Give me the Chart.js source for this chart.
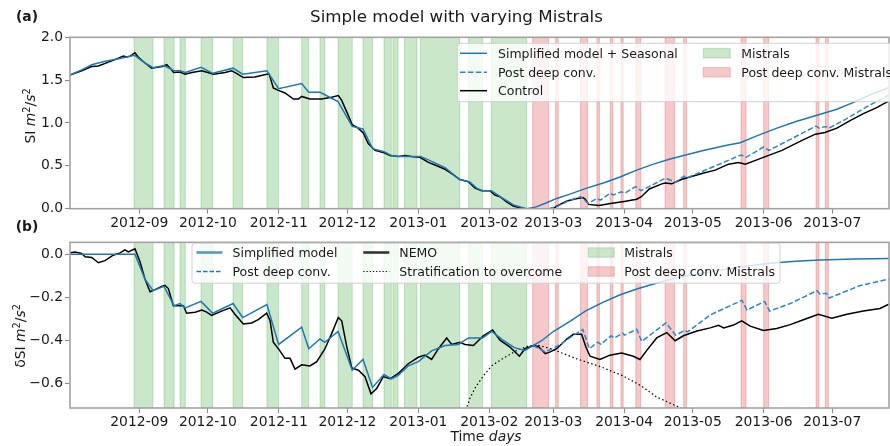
<!DOCTYPE html>
<html>
<head>
<meta charset="utf-8">
<script src="https://cdn.jsdelivr.net/npm/chart.js@4.4.1/dist/chart.umd.min.js"></script>
<style>
  body { margin: 0; background: #fff; }
  #wrap { position: relative; width: 890px; height: 446px; overflow: hidden; font-family: 'DejaVu Sans', sans-serif; color: #1a1a1a; }
  canvas { position: absolute; left: 0; }
  .txt { position: absolute; white-space: nowrap; line-height: 1; transform: translate(-50%, -50%); }
  .rot { transform: translate(-50%, -50%) rotate(-90deg); }
  sup { font-size: 70%; line-height: 0; vertical-align: 0.55em; }
</style>
</head>
<body>
<div id="wrap">
  <canvas id="chartA" width="890" height="232" style="top:0"></canvas>
  <canvas id="chartB" width="890" height="214" style="top:232px"></canvas>
  <div class="txt" style="left:456.5px; top:16px; font-size:16.7px">Simple model with varying Mistrals</div>
  <div class="txt" style="left:27px; top:17px; font-size:13.9px; font-weight:bold">(a)</div>
  <div class="txt" style="left:27px; top:227px; font-size:13.9px; font-weight:bold">(b)</div>
  <div class="txt rot" style="left:31px; top:116px; font-size:13.9px">SI <i>m</i><sup>2</sup>/<i>s</i><sup>2</sup></div>
  <div class="txt rot" style="left:21px; top:336px; font-size:13.9px">δSI <i>m</i><sup>2</sup>/<i>s</i><sup>2</sup></div>
  <div class="txt" style="left:486px; top:437px; font-size:13.9px">Time <i>days</i></div>
</div>
<script>
// days counted from 2012-08-01
const monthTicks = [31, 61, 92, 122, 153, 184, 212, 243, 273, 304, 334];
const monthLabels = ['2012-09', '2012-10', '2012-11', '2012-12', '2013-01', '2013-02',
                     '2013-03', '2013-04', '2013-05', '2013-06', '2013-07'];

// Mistral events
const mistralStart = [28.7, 41.8, 48.8, 58.0, 72.0, 86.8, 102.0, 110.0, 117.9, 128.8, 138.0, 141.9, 146.9, 153.9, 175.0, 184.9];
const mistralEnd   = [37.0, 46.2, 51.1, 63.1, 76.2, 91.9, 105.1, 112.1, 124.1, 133.0, 141.2, 144.1, 152.4, 171.1, 181.1, 200.4];
const postStart = [203.0, 213.0, 223.9, 231.1, 236.9, 241.6, 248.1, 260.9, 269.0, 294.1, 304.0, 326.9, 331.0];
const postEnd   = [210.0, 214.2, 227.0, 232.2, 238.1, 242.6, 250.3, 265.1, 270.3, 296.3, 306.2, 328.2, 332.3];

// panel (a): SI
const aModelDays = [0.7, 5.8, 10.2, 16, 22, 29, 33.5, 37.0, 41.8, 46.2, 48.8, 51.1, 58.0, 63.1, 72.0, 76.2, 86.8, 91.9, 102.0, 105.1,
  110.0, 112.1, 117.9, 124.1, 128.8, 133.0, 138.0, 141.2, 144.1, 153.9, 157.4, 164.7, 171.1, 175.6, 178.5, 181.1, 184.9, 190, 195, 200.4,
  204, 209.1, 213.5, 219.3, 226.6, 233.9, 241.2, 248.5, 255.8, 263.1, 270.3, 277.6, 287.9, 293.7, 301, 309.8, 318.5, 327.3, 336, 343.3,
  350.6, 359.4];
const aModelVals = [1.56, 1.62, 1.68, 1.72, 1.75, 1.79, 1.70, 1.645, 1.67, 1.61, 1.61, 1.59, 1.65, 1.58, 1.64, 1.57, 1.61, 1.40, 1.46, 1.36,
  1.36, 1.33, 1.25, 0.96, 0.93, 0.70, 0.665, 0.62, 0.61, 0.61, 0.57, 0.48, 0.34, 0.31, 0.24, 0.21, 0.21, 0.12, 0.04, 0.0,
  0.016, 0.07, 0.12, 0.17, 0.24, 0.30, 0.37, 0.45, 0.52, 0.58, 0.63, 0.68, 0.74, 0.77, 0.85, 0.94, 1.02, 1.09, 1.16, 1.24,
  1.33, 1.42];

const aPostDays = [210, 214, 219.3, 224, 227.3, 231.1, 232.5, 236.9, 238.3, 241.8, 243.2, 248, 250.4, 261, 265.4, 269.2, 270.5, 282,
  294.1, 296.3, 304, 306.3, 326.9, 328.3, 331, 332.6, 340.3, 349.1, 359];
const aPostVals = [0.0, 0.03, 0.10, 0.14, 0.063, 0.12, 0.10, 0.18, 0.16, 0.198, 0.18, 0.257, 0.21, 0.355, 0.31, 0.38, 0.36, 0.49,
  0.627, 0.60, 0.72, 0.68, 0.965, 0.94, 0.96, 0.94, 1.05, 1.19, 1.33];

const aControlDays = [0.7, 5.8, 10.2, 13.1, 17.5, 20.4, 24, 25.5, 27, 29.1, 30.5, 33.5, 36.4, 41, 43.0, 44.5, 46, 48.8, 51, 54,
  58.3, 61, 63.4, 68.5, 71.4, 73.5, 76.5, 81.5, 86.7, 87.8, 89.6, 91.8, 94.7, 98.4, 100.6, 102, 105.6, 110.7, 115.1, 118,
  119.4, 121.7, 124.1, 126.7, 129, 131.1, 134.1, 138.4, 140.6, 144.3, 147.2, 150.1, 153.7, 157.4, 160.3, 164.7, 167.6, 171.2, 174.9, 177.8,
  180.7, 184.3, 186.5, 188.7, 191.6, 194.5, 198.9, 212, 213.5, 218, 222, 225, 226, 227.5, 232, 237, 243, 248.5, 250.5, 254,
  259.5, 261, 263.8, 268, 277, 282.8, 288.6, 293, 296, 303, 312, 321, 326.6, 330.8, 336, 342, 347.6, 353.4, 359];
const aControlVals = [1.56, 1.61, 1.66, 1.665, 1.71, 1.74, 1.78, 1.77, 1.78, 1.82, 1.77, 1.70, 1.64, 1.66, 1.68, 1.64, 1.59, 1.595, 1.57, 1.59,
  1.61, 1.59, 1.57, 1.59, 1.61, 1.58, 1.53, 1.536, 1.57, 1.57, 1.41, 1.38, 1.35, 1.28, 1.28, 1.31, 1.28, 1.28, 1.30, 1.32,
  1.27, 1.13, 0.98, 0.94, 0.88, 0.76, 0.68, 0.65, 0.62, 0.61, 0.62, 0.61, 0.60, 0.54, 0.51, 0.46, 0.41, 0.34, 0.315, 0.24,
  0.21, 0.21, 0.16, 0.14, 0.08, 0.03, 0.0, 0.0, 0.03, 0.09, 0.115, 0.13, 0.11, 0.05, 0.037, 0.06, 0.085, 0.11, 0.14, 0.23,
  0.29, 0.30, 0.29, 0.34, 0.41, 0.45, 0.52, 0.54, 0.52, 0.59, 0.68, 0.80, 0.87, 0.89, 0.94, 1.03, 1.11, 1.18, 1.26];

// panel (b): delta SI
const bModelDays = [0.7, 29.1, 33.5, 37, 41.8, 46.2, 48.8, 51.1, 58, 63.1, 72, 76.2, 86.8, 91.9, 102, 105.1, 110, 112.1, 117.9, 124.1,
  128.8, 133, 138, 141.2, 144.1, 148.6, 153, 158.8, 164.7, 170.5, 174.9, 181.1, 185.1, 190, 195, 199.6, 206.9, 212, 219.3, 226,
  233.9, 241, 248.5, 257, 266, 276, 286.4, 296, 306.8, 318, 328.6, 344, 359.2];
const bModelVals = [0, 0, -0.117, -0.17, -0.15, -0.24, -0.23, -0.25, -0.22, -0.275, -0.23, -0.295, -0.235, -0.42, -0.34, -0.44, -0.395, -0.41, -0.36, -0.54,
  -0.49, -0.62, -0.56, -0.58, -0.565, -0.52, -0.50, -0.45, -0.425, -0.42, -0.39, -0.39, -0.36, -0.40, -0.435, -0.448, -0.403, -0.36, -0.313, -0.265,
  -0.223, -0.19, -0.162, -0.135, -0.11, -0.09, -0.072, -0.056, -0.042, -0.033, -0.027, -0.023, -0.02];

const bPostDays = [203.3, 208.5, 213.5, 224.9, 227.8, 231.5, 232.8, 237.3, 238.7, 242.4, 243.1, 248.5, 250.7, 261.3, 265.5, 269.5, 270.8,
  280.6, 294.5, 296.7, 304.4, 306.6, 315.6, 327.3, 328.6, 331.4, 332.7, 346, 359.6];
const bPostVals = [-0.425, -0.455, -0.43, -0.35, -0.44, -0.41, -0.42, -0.38, -0.39, -0.368, -0.377, -0.35, -0.406, -0.32, -0.377, -0.355, -0.362,
  -0.283, -0.215, -0.26, -0.22, -0.265, -0.23, -0.17, -0.185, -0.182, -0.204, -0.147, -0.114];

const bNemoDays = [0.7, 2.9, 5.8, 7.3, 10.2, 13.1, 16.0, 19.6, 22.6, 24.7, 26.2, 29.1, 31.3, 33.5, 35.7, 37.9, 40.8, 42.2, 43.7, 45.9,
  48.1, 50.3, 51.7, 55.4, 58.3, 60.5, 62.6, 67.0, 70.7, 72.8, 76.5, 80.1, 83.0, 86.7, 88.2, 89.6, 91.8, 94.7, 96.9, 99.1,
  102.0, 105.6, 108.6, 112.2, 115.1, 118.0, 119.5, 121.7, 123.9, 126.8, 129.7, 132.3, 134.8, 137.7, 140.6, 144.3, 148.6, 153.0, 155.9, 158.8,
  161.8, 165.4, 167.6, 171.2, 173.4, 177.1, 181.4, 185.5, 188.7, 193.1, 197.2, 199.6, 203.3, 205.5, 208.5, 210.7, 213.5, 217.9, 220.8, 224.4,
  226.3, 228.1, 232.4, 236.8, 241.9, 247, 249.9, 252.9, 257.2, 261.6, 265.3, 268.9, 274.8, 280.6, 284.3, 286.5, 290.8, 294.4, 298.1, 303.9,
  309.7, 315.6, 321.4, 327.9, 333.8, 340.4, 347.6, 354.9, 359.2];
const bNemoVals = [0.006, 0.01, 0.003, -0.012, -0.015, -0.04, -0.03, -0.005, 0.006, 0.02, 0.01, 0.025, -0.035, -0.117, -0.175, -0.165, -0.15, -0.145, -0.16, -0.24,
  -0.24, -0.24, -0.275, -0.27, -0.26, -0.27, -0.285, -0.265, -0.25, -0.28, -0.325, -0.32, -0.305, -0.275, -0.31, -0.41, -0.44, -0.485, -0.485, -0.535,
  -0.515, -0.52, -0.50, -0.44, -0.37, -0.295, -0.31, -0.43, -0.53, -0.54, -0.57, -0.65, -0.625, -0.57, -0.58, -0.555, -0.51, -0.48, -0.47, -0.49,
  -0.44, -0.39, -0.42, -0.41, -0.42, -0.425, -0.38, -0.353, -0.40, -0.433, -0.475, -0.44, -0.425, -0.43, -0.463, -0.455, -0.44, -0.395, -0.373, -0.373,
  -0.433, -0.475, -0.49, -0.47, -0.46, -0.475, -0.49, -0.448, -0.39, -0.365, -0.403, -0.38, -0.358, -0.343, -0.331, -0.343, -0.33, -0.31, -0.335, -0.355,
  -0.346, -0.328, -0.305, -0.28, -0.298, -0.28, -0.265, -0.253, -0.23];

const bStratDays = [172, 175.6, 178, 181.4, 185, 190.2, 196, 201, 205, 211, 222, 233, 242.6, 250, 257.2, 267.4, 272];
const bStratVals = [-0.78, -0.67, -0.62, -0.567, -0.52, -0.484, -0.448, -0.428, -0.423, -0.44, -0.486, -0.525, -0.567, -0.61, -0.665, -0.714, -0.74];

const BLUE = '#1f77b4';
const DASH_BLUE = '#2e86c8';
const GREEN = 'rgba(44,160,44,0.25)';
const RED = 'rgba(214,39,40,0.25)';
const FONT = "'DejaVu Sans', sans-serif";
const TXT = '#1a1a1a';

function pts (days, vals) {
    return days.map((d, i) => ({x: d, y: vals[i]}));
}

function line (label, days, vals, color, extra) {
    return Object.assign({
        label: label,
        data: pts(days, vals),
        borderColor: color,
        borderWidth: 1.5,
        pointRadius: 0,
        tension: 0,
        fill: false
    }, extra || {});
}

const spanPlugin = {
    id: 'spans',
    beforeDatasetsDraw (chart) {
        const ctx = chart.ctx, a = chart.chartArea, x = chart.scales.x;
        ctx.save();
        ctx.beginPath();
        ctx.rect(a.left, a.top, a.right - a.left, a.bottom - a.top);
        ctx.clip();
        const draw = (starts, ends, col) => {
            starts.forEach((s, i) => {
                const x0 = x.getPixelForValue(s), x1 = x.getPixelForValue(ends[i]);
                ctx.fillStyle = col;
                ctx.fillRect(x0, a.top, x1 - x0, a.bottom - a.top);
                ctx.strokeStyle = col;
                ctx.lineWidth = 1;
                ctx.strokeRect(x0, a.top, x1 - x0, a.bottom - a.top);
            });
        };
        draw(mistralStart, mistralEnd, GREEN);
        draw(postStart, postEnd, RED);
        ctx.restore();
    }
};

const framePlugin = {
    id: 'frame',
    afterDatasetsDraw (chart) {
        const ctx = chart.ctx, a = chart.chartArea;
        ctx.save();
        ctx.strokeStyle = '#a3a3a3';
        ctx.lineWidth = 1.6;
        ctx.strokeRect(a.left, a.top, a.right - a.left, a.bottom - a.top);
        ctx.restore();
    }
};

const legendPlugin = {
    id: 'boxLegend',
    afterDraw (chart, args, opts) {
        const ctx = chart.ctx, b = opts.box;
        ctx.save();
        ctx.beginPath();
        ctx.roundRect(b.x, b.y, b.w, b.h, 3);
        ctx.fillStyle = 'rgba(255,255,255,0.8)';
        ctx.fill();
        ctx.strokeStyle = 'rgba(204,204,204,0.9)';
        ctx.lineWidth = 1;
        ctx.stroke();
        ctx.font = '12.5px ' + FONT;
        ctx.textBaseline = 'middle';
        opts.items.forEach(it => {
            const x0 = opts.cols[it.col], y = opts.rows[it.row];
            if (it.patch) {
                ctx.fillStyle = it.patch;
                ctx.fillRect(x0, y - 4.7, opts.hw, 9.4);
                ctx.strokeStyle = it.patch;
                ctx.lineWidth = 1;
                ctx.strokeRect(x0, y - 4.7, opts.hw, 9.4);
            } else {
                ctx.globalAlpha = it.alpha || 1;
                ctx.strokeStyle = it.color;
                ctx.lineWidth = it.width;
                ctx.setLineDash(it.dash || []);
                ctx.beginPath();
                ctx.moveTo(x0, y);
                ctx.lineTo(x0 + opts.hw, y);
                ctx.stroke();
                ctx.setLineDash([]);
                ctx.globalAlpha = 1;
            }
            ctx.fillStyle = TXT;
            ctx.fillText(it.label, x0 + opts.hw + opts.gap, y + 1);
        });
        ctx.restore();
    }
};

const fmt = v => (Math.abs(v) < 1e-9 ? 0 : v).toFixed(1).replace('-', '\u2212');

function xAxis (h) {
    return {
        type: 'linear', min: 0.7, max: 358.8,
        afterBuildTicks: s => { s.ticks = monthTicks.map(v => ({value: v})); },
        afterFit: s => { s.height = h; },
        ticks: { autoSkip: false, maxRotation: 0, padding: 1, color: TXT,
                 font: {family: FONT, size: 13.9},
                 callback: (v, i) => monthLabels[i] },
        grid: { drawOnChartArea: false, tickLength: 5, tickColor: '#8a8a8a', tickWidth: 1.1 },
        border: { display: false }
    };
}

function yAxis (min, max, ticks) {
    return {
        type: 'linear', min: min, max: max,
        afterBuildTicks: s => { s.ticks = ticks.map(v => ({value: v})); },
        afterFit: s => { s.width = 70; },
        ticks: { padding: 2, color: TXT, font: {family: FONT, size: 13.9}, callback: v => fmt(v) },
        grid: { drawOnChartArea: false, tickLength: 5, tickColor: '#8a8a8a', tickWidth: 1.1 },
        border: { display: false }
    };
}

const common = {
    responsive: false,
    animation: false,
    events: [],
    plugins: { legend: { display: false }, tooltip: { enabled: false } }
};

new Chart(document.getElementById('chartA'), {
    type: 'line',
    data: {
        datasets: [
            line('Simplified model + Seasonal', aModelDays, aModelVals, BLUE),
            line('Post deep conv.', aPostDays, aPostVals, DASH_BLUE, {borderDash: [5.5, 2.4]}),
            line('Control', aControlDays, aControlVals, '#000000')
        ]
    },
    options: Object.assign({}, common, {
        layout: { padding: {top: 37.3, right: 1, bottom: 0, left: 0} },
        scales: { x: xAxis(23.3), y: yAxis(0, 2, [0, 0.5, 1, 1.5, 2]) },
        plugins: Object.assign({}, common.plugins, {
            boxLegend: {
                box: {x: 457.3, y: 43.3, w: 440, h: 58.4},
                cols: [460, 703.3], rows: [53.3, 72.3, 90.7], hw: 27, gap: 11,
                items: [
                    {col: 0, row: 0, label: 'Simplified model + Seasonal', color: BLUE, width: 1.5},
                    {col: 0, row: 1, label: 'Post deep conv.', color: DASH_BLUE, width: 1.5, dash: [5.5, 2.4]},
                    {col: 0, row: 2, label: 'Control', color: '#000000', width: 1.5},
                    {col: 1, row: 0, label: 'Mistrals', patch: GREEN},
                    {col: 1, row: 1, label: 'Post deep conv. Mistrals', patch: RED}
                ]
            }
        })
    }),
    plugins: [spanPlugin, framePlugin, legendPlugin]
});

new Chart(document.getElementById('chartB'), {
    type: 'line',
    data: {
        datasets: [
            line('Simplified model', bModelDays, bModelVals, BLUE),
            line('Post deep conv.', bPostDays, bPostVals, DASH_BLUE, {borderDash: [5.5, 2.4]}),
            line('NEMO', bNemoDays, bNemoVals, '#000000'),
            line('Stratification to overcome', bStratDays, bStratVals, '#000000', {borderWidth: 1.2, borderDash: [1.5, 2.5]})
        ]
    },
    options: Object.assign({}, common, {
        layout: { padding: {top: 5, right: 1, bottom: 0, left: 0} },
        scales: { x: xAxis(38), y: yAxis(-0.716, 0.055, [-0.6, -0.4, -0.2, 0]) },
        plugins: Object.assign({}, common.plugins, {
            boxLegend: {
                box: {x: 192, y: 11.2, w: 588, h: 40},
                cols: [196.5, 363.3, 588.3], rows: [20.5, 39.5], hw: 26, gap: 10,
                items: [
                    {col: 0, row: 0, label: 'Simplified model', color: BLUE, width: 2.6, alpha: 0.75},
                    {col: 0, row: 1, label: 'Post deep conv.', color: BLUE, width: 1.3, dash: [4.5, 2]},
                    {col: 1, row: 0, label: 'NEMO', color: '#333333', width: 2.6},
                    {col: 1, row: 1, label: 'Stratification to overcome', color: '#000000', width: 1.2, dash: [1.2, 2]},
                    {col: 2, row: 0, label: 'Mistrals', patch: GREEN},
                    {col: 2, row: 1, label: 'Post deep conv. Mistrals', patch: RED}
                ]
            }
        })
    }),
    plugins: [spanPlugin, framePlugin, legendPlugin]
});
</script>
</body>
</html>
